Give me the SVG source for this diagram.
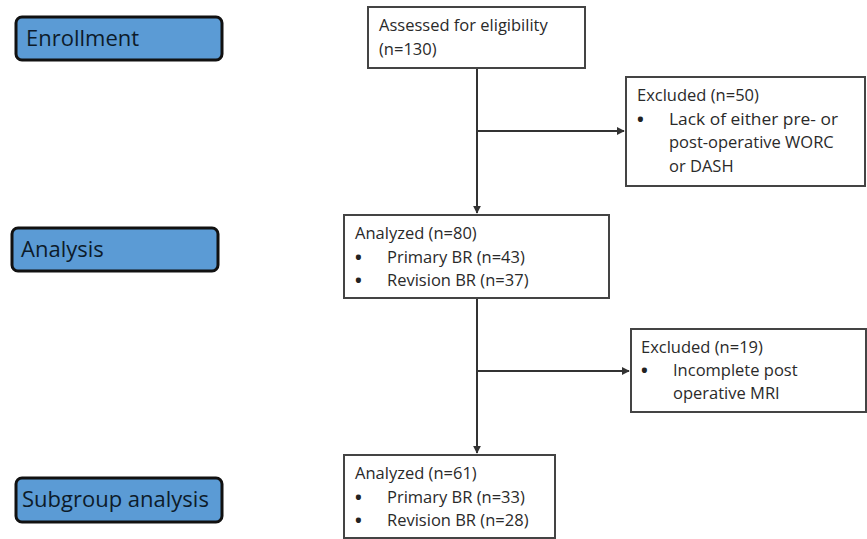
<svg xmlns="http://www.w3.org/2000/svg" width="867" height="539" viewBox="0 0 867 539">
<defs>
<style>
.stage{fill:#5B9BD5;stroke:#111;stroke-width:3}
.stxt{font-family:"Open Sans","Liberation Sans",sans-serif;font-size:22px;fill:#0d1b2a}
.box{fill:#fff;stroke:#444;stroke-width:2}
.btxt{font-family:"Open Sans","Liberation Sans",sans-serif;font-size:16.5px;fill:#2a2a2a}
.bul{font-family:"Open Sans","Liberation Sans",sans-serif;font-size:18px;font-weight:bold;fill:#222}
.conn{stroke:#333;stroke-width:2;fill:none}
</style>
<marker id="arr" viewBox="0 0 10 10" refX="9" refY="5" markerWidth="4" markerHeight="4" orient="auto">
<path d="M0,0 L10,5 L0,10 z" fill="#333"/>
</marker>
</defs>
<rect width="867" height="539" fill="#fff"/>
<g id="enrollment">
<rect class="stage" x="16" y="17" width="206" height="43" rx="6"/>
<text class="stxt" x="26" y="46">Enrollment</text>
</g>
<g id="analysis">
<rect class="stage" x="12" y="228" width="206" height="43" rx="6"/>
<text class="stxt" x="21" y="257">Analysis</text>
</g>
<g id="subgroup">
<rect class="stage" x="16" y="478" width="206" height="44" rx="6"/>
<text class="stxt" x="22" y="507">Subgroup analysis</text>
</g>
<g id="connectors">
<line class="conn" x1="477" y1="68" x2="477" y2="213" marker-end="url(#arr)"/>
<line class="conn" x1="477" y1="131" x2="624" y2="131" marker-end="url(#arr)"/>
<line class="conn" x1="477" y1="298" x2="477" y2="453" marker-end="url(#arr)"/>
<line class="conn" x1="477" y1="371" x2="629" y2="371" marker-end="url(#arr)"/>
</g>
<g id="assessed">
<rect class="box" x="368" y="7" width="217" height="61"/>
<text class="btxt" x="379" y="31">Assessed for eligibility</text>
<text class="btxt" x="379" y="55">(n=130)</text>
</g>
<g id="excluded1">
<rect class="box" x="626" y="77" width="239" height="109"/>
<text class="btxt" x="637" y="101">Excluded (n=50)</text>
<text class="bul" x="637" y="126">•</text>
<text class="btxt" x="669" y="125" textLength="169" lengthAdjust="spacingAndGlyphs">Lack of either pre- or</text>
<text class="btxt" x="669" y="148">post-operative WORC</text>
<text class="btxt" x="669" y="172">or DASH</text>
</g>
<g id="analyzed80">
<rect class="box" x="344" y="215" width="265" height="83"/>
<text class="btxt" x="355" y="239">Analyzed (n=80)</text>
<text class="bul" x="355" y="264">•</text>
<text class="btxt" x="387" y="263">Primary BR (n=43)</text>
<text class="bul" x="355" y="287">•</text>
<text class="btxt" x="387" y="286">Revision BR (n=37)</text>
</g>
<g id="excluded2">
<rect class="box" x="631" y="329" width="235" height="83"/>
<text class="btxt" x="641" y="353">Excluded (n=19)</text>
<text class="bul" x="641" y="377">•</text>
<text class="btxt" x="673" y="376">Incomplete post</text>
<text class="btxt" x="673" y="399">operative MRI</text>
</g>
<g id="analyzed61">
<rect class="box" x="344" y="455" width="211" height="83"/>
<text class="btxt" x="355" y="479">Analyzed (n=61)</text>
<text class="bul" x="355" y="504">•</text>
<text class="btxt" x="387" y="503">Primary BR (n=33)</text>
<text class="bul" x="355" y="527">•</text>
<text class="btxt" x="387" y="526">Revision BR (n=28)</text>
</g>
</svg>
